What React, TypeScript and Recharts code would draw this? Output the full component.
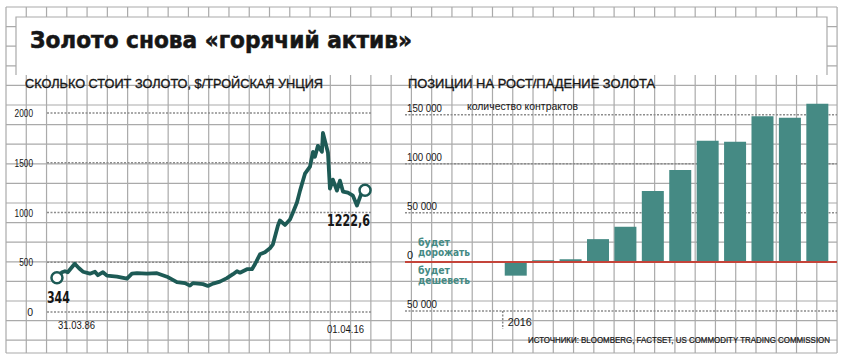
import React from 'react';
import { LineChart, Line, BarChart, Bar, XAxis, YAxis, CartesianGrid, ReferenceLine } from 'recharts';

const goldYears = [
  1986.25, 1986.74, 1987.03, 1987.3, 1987.98, 1988.4, 1988.78, 1989.46, 1989.95, 1990.24,
  1990.73, 1991.12, 1992.1, 1993.07, 1993.55, 1994.04, 1995.0, 1995.99, 1996.96, 1997.93,
  1998.71, 1999.2, 1999.49, 2000.47, 2000.95, 2001.44, 2002.12, 2002.8, 2003.39, 2003.78,
  2004.07, 2004.75, 2005.24, 2005.53, 2006.02, 2006.5, 2006.99, 2007.28, 2007.77, 2007.96,
  2008.45, 2008.94, 2009.23, 2009.62, 2009.92, 2010.4, 2010.89, 2011.18, 2011.37, 2011.66,
  2012.05, 2012.15, 2012.64, 2012.83, 2013.12, 2013.51, 2013.81, 2014.1, 2014.58, 2015.07,
  2015.46, 2015.85, 2016.25,
];
const goldPrices = [
  344, 400, 410, 400, 485, 440, 405, 385, 405, 370,
  400, 365, 355, 335, 385, 390, 385, 390, 355, 300,
  290, 265, 290, 280, 262, 285, 305, 340, 380, 410,
  395, 430, 430, 480, 580, 600, 640, 680, 870, 920,
  875, 930, 1000, 1100, 1220, 1390, 1460, 1610, 1560, 1670,
  1610, 1800, 1600, 1240, 1330, 1220, 1320, 1210, 1200, 1170,
  1070, 1180, 1222.6,
];
const goldTicks = [0, 500, 1000, 1500, 2000];
const dateTicks = [1986.25, 2016.25];
const dateLabels = ['31.03.86', '01.04.16'];
const endLabels = ['344', '1222,6'];

const weeks = ['05.01', '12.01', '19.01', '26.01', '02.02', '09.02', '16.02', '23.02', '01.03', '08.03', '15.03', '22.03'];
const netLong = [-14000, 1700, 2700, 23200, 35800, 72300, 93700, 123400, 122400, 148300, 146900, 161200];
const posTicks = [-50000, 0, 50000, 100000, 150000];
const yearLabel = '2016';

const goldData = goldYears.map((t, i) => ({ t, price: goldPrices[i] }));
const posData = weeks.map((w, i) => ({ week: w, value: netLong[i] }));

const LINE = '#1d5a55';
const BAR = '#458a84';
const GRID = '#aaaaaa';
const DOT = '#8c8c8c';
const INK = '#161616';
const COND = '"DejaVu Sans Condensed", "DejaVu Sans", sans-serif';
const SANS = '"Liberation Sans", Arial, sans-serif';

const fmtThousands = (v: number) => Math.abs(v).toLocaleString('ru-RU').replace(/[\u00a0\u202f]/g, ' ');

// fixed-width text so the narrow newspaper fonts keep their length
const T = (p: { x: number; y: number; w?: number; size: number; text: string; bold?: boolean; color?: string; family?: string; anchor?: string; heavy?: number }) => (
  <text
    x={p.x}
    y={p.y}
    textLength={p.w}
    lengthAdjust={p.w ? 'spacingAndGlyphs' : undefined}
    fontSize={p.size}
    fontWeight={p.bold ? 'bold' : 'normal'}
    fontFamily={p.family || SANS}
    fill={p.color || INK}
    stroke={p.heavy ? p.color || INK : undefined}
    strokeWidth={p.heavy}
    textAnchor={p.anchor || 'start'}
  >
    {p.text}
  </text>
);

const Background = () => {
  const cols = Array.from({ length: 42 }, (_, i) => 6 + i * 20.27);
  const rows = Array.from({ length: 18 }, (_, i) => 7 + i * 19.6);
  return (
    <svg width={845} height={359} style={{ position: 'absolute', left: 0, top: 0 }}>
      {cols.map((x) => (
        <line key={'c' + x} x1={x} x2={x} y1={7} y2={353} stroke={GRID} strokeWidth={1.2} />
      ))}
      {rows.concat([353]).map((y) => (
        <line key={'r' + y} x1={6} x2={837} y1={y} y2={y} stroke={GRID} strokeWidth={1.2} />
      ))}
      <rect x={16} y={17} width={811} height={58} fill="#fff" />
      <polyline points="16,75 16,17 827,17 827,75" fill="none" stroke={GRID} strokeWidth={1.2} />
    </svg>
  );
};

const renderDot = (props: any) => {
  const { cx, cy, index } = props;
  if (index === 0 || index === goldData.length - 1) {
    const first = index === 0;
    return (
      <g key={'dot' + index}>
        <circle cx={cx} cy={cy} r={5.5} fill="#fff" stroke={LINE} strokeWidth={2.5} />
        {first
          ? T({ x: cx - 10, y: cy + 25, w: 23, size: 15, text: endLabels[0], bold: true, family: COND })
          : T({ x: cx - 38, y: cy + 36, w: 43, size: 15, text: endLabels[1], bold: true, family: COND })}
      </g>
    );
  }
  return <g key={'dot' + index} />;
};

const DateTick = (props: any) => {
  const { x, y, payload, index } = props;
  const first = index === 0;
  const text = dateLabels[dateTicks.indexOf(payload.value)];
  return first
    ? T({ x: x + 1, y: y + 15, w: 37, size: 11.5, text })
    : T({ x: x - 37, y: y + 19, w: 37, size: 11.5, text });
};

const GoldTick = (props: any) => {
  const { x, y, payload } = props;
  const text = String(payload.value);
  return T({ x, y: y + 4, w: text.length > 1 ? text.length * 4.6 : undefined, size: 10.5, text, anchor: 'end' });
};

const PosTick = (props: any) => {
  const { x, y, payload } = props;
  const text = fmtThousands(payload.value);
  return T({ x: x + 2, y: y - 3, w: text.length > 1 ? text.length * 5 : undefined, size: 11, text });
};

const WeekTick = (props: any) => {
  const { x, y, index } = props;
  if (index !== 0) return <g />;
  return (
    <g>
      <line x1={x - 13} x2={x - 13} y1={y - 2} y2={y + 16} stroke={DOT} strokeWidth={1.5} strokeDasharray="2 1.5" />
      {T({ x: x - 8, y: y + 13, w: 24, size: 11.5, text: yearLabel })}
    </g>
  );
};

export default function App() {
  return (
    <div style={{ position: 'absolute', left: 0, top: 0, width: 845, height: 359, background: '#fff', overflow: 'hidden' }}>
      <Background />

      <div style={{ position: 'absolute', left: 0, top: 0 }}>
        <LineChart width={390} height={359} data={goldData} margin={{ top: 113, right: 19, bottom: 27, left: 17 }}>
          <CartesianGrid horizontal vertical={false} horizontalValues={goldTicks} stroke={DOT} strokeWidth={1.5} strokeDasharray="2 1.5" />
          <XAxis
            dataKey="t"
            type="number"
            domain={[1985.28, 2016.83]}
            ticks={dateTicks}
            height={20}
            axisLine={false}
            tickLine={false}
            tickSize={0}
            tick={<DateTick />}
          />
          <YAxis
            domain={[0, 2000]}
            ticks={goldTicks}
            width={30}
            axisLine={false}
            tickLine={false}
            tickSize={0}
            tickMargin={14}
            tick={<GoldTick />}
          />
          <Line
            dataKey="price"
            type="linear"
            stroke={LINE}
            strokeWidth={3.8}
            strokeLinejoin="round"
            dot={renderDot}
            activeDot={false}
            isAnimationActive={false}
          />
        </LineChart>
      </div>

      <div style={{ position: 'absolute', left: 390, top: 0 }}>
        <BarChart
          width={455}
          height={359}
          data={posData}
          margin={{ top: 95, right: 8, bottom: 28, left: 14 }}
          barCategoryGap="10%"
        >
          <CartesianGrid horizontal vertical={false} horizontalValues={posTicks} stroke={DOT} strokeWidth={1.5} strokeDasharray="2 1.5" />
          <XAxis
            dataKey="week"
            height={20}
            padding={{ left: 97, right: 6 }}
            axisLine={false}
            tickLine={false}
            tickSize={0}
            interval={0}
            tick={<WeekTick />}
          />
          <YAxis
            domain={[-50000, 170000]}
            ticks={posTicks}
            width={1}
            axisLine={false}
            tickLine={false}
            tickSize={0}
            tickMargin={0}
            tick={<PosTick />}
          />
          <Bar dataKey="value" fill={BAR} isAnimationActive={false} />
          <ReferenceLine y={0} stroke="#c4443a" strokeWidth={2} />
        </BarChart>
      </div>

      <svg width={845} height={359} style={{ position: 'absolute', left: 0, top: 0, pointerEvents: 'none' }}>
        {T({ x: 30, y: 48, w: 382, size: 23, text: 'Золото снова «горячий актив»', bold: true, family: '"DejaVu Sans", sans-serif', heavy: 0.6 })}
        {T({ x: 25, y: 88, w: 298, size: 13.5, text: 'СКОЛЬКО СТОИТ ЗОЛОТО, $/ТРОЙСКАЯ УНЦИЯ', heavy: 0.35 })}
        {T({ x: 408, y: 88, w: 247, size: 13.5, text: 'ПОЗИЦИИ НА РОСТ/ПАДЕНИЕ ЗОЛОТА', heavy: 0.35 })}
        {T({ x: 467, y: 110, w: 111, size: 10, text: 'количество контрактов' })}
        {T({ x: 418, y: 246, w: 32, size: 10, text: 'будет', bold: true, color: BAR, family: COND })}
        {T({ x: 418, y: 256, w: 52, size: 10, text: 'дорожать', bold: true, color: BAR, family: COND })}
        {T({ x: 418, y: 274, w: 32, size: 10, text: 'будет', bold: true, color: BAR, family: COND })}
        {T({ x: 418, y: 284, w: 52, size: 10, text: 'дешеветь', bold: true, color: BAR, family: COND })}
        <g transform="translate(528 343) scale(1 1.2)">
          {T({ x: 0, y: 0, w: 302, size: 8.3, text: 'ИСТОЧНИКИ: BLOOMBERG, FACTSET, US COMMODITY TRADING COMMISSION', heavy: 0.2 })}
        </g>
      </svg>
    </div>
  );
}
